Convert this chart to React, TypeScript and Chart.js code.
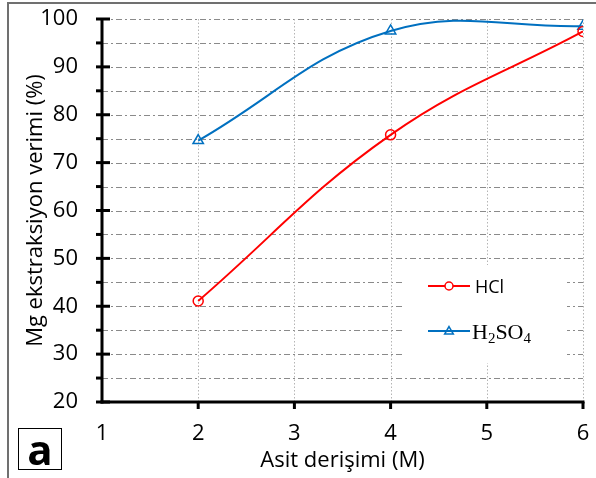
import React, { useEffect, useRef } from "react";
import { Chart, registerables } from "chart.js";

Chart.register(...registerables);

// Acid concentration (M) and Mg extraction yield (%)
const concentrations = [2, 4, 6];
const hclYield = [41.1, 75.8, 97.4];
const h2so4Yield = [74.6, 97.5, 98.5];

const X_MIN = 1;
const X_MAX = 6;
const Y_MIN = 20;
const Y_MAX = 100;
const Y_MAJOR = 10;
const Y_MINOR = 5;

const RED = "#ff0000";
const BLUE = "#0070c0";
const SANS = "'Open Sans', Lato, sans-serif";
const SERIF = "'Liberation Serif', 'DejaVu Serif', serif";

const toPoints = (ys: number[]) => concentrations.map((x, i) => ({ x, y: ys[i] }));

function strokeLine(ctx: CanvasRenderingContext2D, x1: number, y1: number, x2: number, y2: number) {
  ctx.beginPath();
  ctx.moveTo(x1, y1);
  ctx.lineTo(x2, y2);
  ctx.stroke();
}

function drawTriangle(ctx: CanvasRenderingContext2D, cx: number, cy: number, r: number) {
  ctx.beginPath();
  for (let k = 0; k < 3; k++) {
    const ang = (k * 2 * Math.PI) / 3;
    const px = cx + Math.sin(ang) * r;
    const py = cy - Math.cos(ang) * r;
    if (k === 0) ctx.moveTo(px, py);
    else ctx.lineTo(px, py);
  }
  ctx.closePath();
  ctx.stroke();
}

const decorPlugin = {
  id: "decor",
  beforeDatasetsDraw(chart: any) {
    const { ctx, chartArea: a, scales } = chart;
    const xs = scales.x;
    const ys = scales.y;
    ctx.save();
    // horizontal dash-dot grid every 5 %
    ctx.strokeStyle = "#8a8a8a";
    ctx.lineWidth = 1;
    ctx.setLineDash([6, 3, 2, 3]);
    for (let v = Y_MIN + Y_MINOR; v <= Y_MAX; v += Y_MINOR) {
      const py = Math.round(ys.getPixelForValue(v)) + 0.5;
      strokeLine(ctx, a.left, py, a.right, py);
    }
    // vertical dotted grid at each integer concentration
    ctx.strokeStyle = "#b5b5b5";
    ctx.setLineDash([1.5, 2]);
    for (let v = X_MIN + 1; v <= X_MAX; v++) {
      const px = Math.round(xs.getPixelForValue(v)) + 0.5;
      strokeLine(ctx, px, a.top, px, a.bottom);
    }
    ctx.restore();
  },
  afterDatasetsDraw(chart: any) {
    const { ctx, chartArea: a, scales } = chart;
    const xs = scales.x;
    const ys = scales.y;
    ctx.save();
    ctx.setLineDash([]);

    // legend panel
    const lx = a.left + 303;
    const ly = a.top + 246;
    ctx.fillStyle = "#ffffff";
    ctx.fillRect(lx, ly, 162, 98);

    const rowY1 = ly + 21;
    const rowY2 = ly + 66;
    const lineX1 = lx + 23;
    const lineX2 = lx + 65;
    ctx.lineWidth = 2;
    ctx.strokeStyle = RED;
    strokeLine(ctx, lineX1, rowY1, lineX2, rowY1);
    ctx.lineWidth = 1.5;
    ctx.beginPath();
    ctx.arc((lineX1 + lineX2) / 2, rowY1, 4, 0, Math.PI * 2);
    ctx.fillStyle = "#ffffff";
    ctx.fill();
    ctx.stroke();

    ctx.lineWidth = 2;
    ctx.strokeStyle = BLUE;
    strokeLine(ctx, lineX1, rowY2, lineX2, rowY2);
    ctx.lineWidth = 1.5;
    drawTriangle(ctx, (lineX1 + lineX2) / 2, rowY2 + 0.5, 5);

    ctx.fillStyle = "#000000";
    ctx.textBaseline = "alphabetic";
    ctx.textAlign = "left";
    ctx.font = `18px ${SANS}`;
    ctx.fillText("HCl", lineX2 + 5, rowY1 + 7);

    // H2SO4 with subscripts
    let tx = lineX2 + 2;
    const base = rowY2 + 8;
    const parts: [string, boolean][] = [["H", false], ["2", true], ["SO", false], ["4", true]];
    for (const [txt, sub] of parts) {
      ctx.font = sub ? `15px ${SERIF}` : `22px ${SERIF}`;
      ctx.fillText(txt, tx, sub ? base + 4 : base);
      tx += ctx.measureText(txt).width;
    }

    // axis lines
    ctx.strokeStyle = "#000000";
    ctx.lineWidth = 3;
    ctx.lineCap = "butt";
    strokeLine(ctx, a.left, a.top - 1, a.left, a.bottom + 1.5);
    strokeLine(ctx, a.left - 1.5, a.bottom, a.right + 1.5, a.bottom);

    // y tick marks: majors cross the axis, minors point outward
    for (let v = Y_MIN; v <= Y_MAX; v += Y_MINOR) {
      const py = ys.getPixelForValue(v);
      const major = v % Y_MAJOR === 0;
      strokeLine(ctx, a.left - 6, py, major ? a.left + 8 : a.left, py);
    }
    // x tick marks
    for (let v = X_MIN + 1; v <= X_MAX; v++) {
      const px = xs.getPixelForValue(v);
      strokeLine(ctx, px, a.bottom, px, a.bottom + 7);
    }

    // panel letter
    ctx.lineWidth = 1;
    ctx.strokeStyle = "#000000";
    ctx.strokeRect(18.5, 428.5, 43, 41);
    ctx.font = `bold 42px ${SANS}`;
    ctx.textAlign = "center";
    ctx.fillStyle = "#000000";
    ctx.fillText("a", 40, 465);

    // outer frame (left and top edges)
    ctx.strokeStyle = "#707070";
    ctx.lineWidth = 2;
    strokeLine(ctx, 8, 3, 8, 478);
    strokeLine(ctx, 7, 3, 596, 3);
    ctx.restore();
  },
};

export default function App() {
  const canvasRef = useRef<HTMLCanvasElement | null>(null);

  useEffect(() => {
    const canvas = canvasRef.current;
    if (!canvas) return;
    const chart = new Chart(canvas, {
      type: "line",
      data: {
        datasets: [
          {
            label: "HCl",
            data: toPoints(hclYield),
            borderColor: RED,
            borderWidth: 2,
            pointStyle: "circle",
            pointRadius: 5,
            pointBorderWidth: 1.5,
            pointBorderColor: RED,
            pointBackgroundColor: "rgba(255,255,255,0)",
            tension: 0.4,
            capBezierPoints: false,
          } as any,
          {
            label: "H2SO4",
            data: toPoints(h2so4Yield),
            borderColor: BLUE,
            borderWidth: 2,
            pointStyle: "triangle",
            pointRadius: 6,
            pointBorderWidth: 1.5,
            pointBorderColor: BLUE,
            pointBackgroundColor: "rgba(255,255,255,0)",
            tension: 0.4,
            capBezierPoints: false,
          } as any,
        ],
      },
      options: {
        responsive: false,
        animation: false,
        layout: { padding: { left: 0, right: 13, top: 19, bottom: 0 } },
        plugins: {
          legend: { display: false },
          tooltip: { enabled: false },
        },
        scales: {
          x: {
            type: "linear",
            min: X_MIN,
            max: X_MAX,
            ticks: {
              stepSize: 1,
              color: "#000000",
              padding: 19,
              font: { family: SANS, size: 22 },
            },
            grid: { display: false, drawTicks: false },
            border: { display: false },
            title: {
              display: true,
              text: "Asit derişimi (M)",
              color: "#000000",
              font: { family: SANS, size: 22 },
              padding: { top: 4, bottom: 4 },
            },
            afterFit: (scale: any) => {
              scale.height = 76;
              scale.paddingLeft = 0;
              scale.paddingRight = 0;
            },
          },
          y: {
            type: "linear",
            min: Y_MIN,
            max: Y_MAX,
            ticks: {
              stepSize: Y_MINOR,
              color: "#000000",
              padding: 24,
              font: { family: SANS, size: 22 },
              callback: (v: any) => (Number(v) % Y_MAJOR === 0 ? String(v) : ""),
            },
            grid: { display: false, drawTicks: false },
            border: { display: false },
            title: {
              display: true,
              text: "Mg ekstraksiyon verimi (%)",
              color: "#000000",
              font: { family: SANS, size: 22 },
              padding: { top: 23, bottom: 23 },
            },
            afterFit: (scale: any) => {
              scale.width = 102;
              scale.paddingTop = 0;
              scale.paddingBottom = 0;
            },
          },
        },
      },
      plugins: [decorPlugin],
    });
    return () => chart.destroy();
  }, []);

  return (
    <div style={{ position: "absolute", left: 0, top: 0, width: 596, height: 478, background: "#ffffff" }}>
      <canvas ref={canvasRef} width={596} height={478} />
    </div>
  );
}
